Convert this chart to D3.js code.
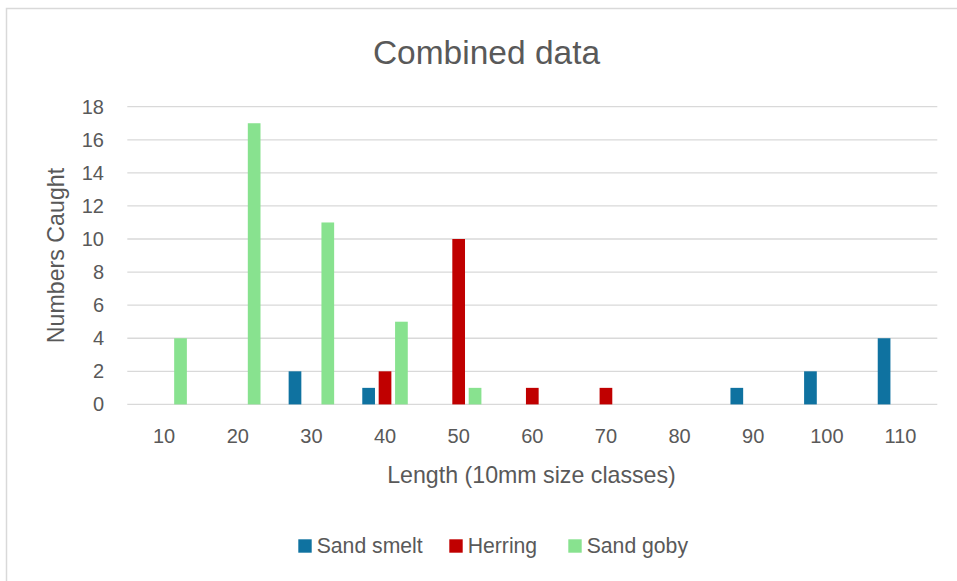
<!DOCTYPE html>
<html><head><meta charset="utf-8">
<script src="https://cdn.jsdelivr.net/npm/d3@7"></script>
<style>
html,body{margin:0;padding:0;background:#fff;}
svg{display:block;}
text{font-family:"Liberation Sans",Arial,sans-serif;fill:#595959;}
</style></head>
<body>
<svg id="chart" width="957" height="581"></svg>
<script>
const categories = ["10","20","30","40","50","60","70","80","90","100","110"];
const seriesNames = ["Sand smelt","Herring","Sand goby"];
const sandSmelt = [0,0,2,1,0,0,0,0,1,2,4];
const herring   = [0,0,0,2,10,1,1,0,0,0,0];
const sandGoby  = [4,17,11,5,1,0,0,0,0,0,0];
const yTicks = [0,2,4,6,8,10,12,14,16,18];
const colors = ["#0F72A0","#C00000","#88E28F"];
const title = "Combined data";
const xTitle = "Length (10mm size classes)";
const yTitle = "Numbers Caught";

const seriesValues = [sandSmelt, herring, sandGoby];
const svg = d3.select("#chart");

// chart border
svg.append("path").attr("d","M6.5,581 L6.5,8.5 L957,8.5")
  .attr("fill","none").attr("stroke","#d9d9d9").attr("stroke-width",1.5);

const plot = {left:127.3, right:937.3, top:106.7, bottom:404.4};

const x = d3.scaleBand().domain(categories).range([plot.left, plot.right]).padding(0);
const y = d3.scaleLinear().domain([0,18]).range([plot.bottom, plot.top]);

const step = x.bandwidth()*0.2227;
const inner = d3.scaleBand().domain(seriesNames)
  .range([-1.5*step, 1.5*step]).paddingInner(0.2256).paddingOuter(0.1128);

// gridlines
svg.append("g").selectAll("line").data(yTicks).join("line")
  .attr("x1",plot.left).attr("x2",plot.right)
  .attr("y1",d=>y(d)).attr("y2",d=>y(d))
  .attr("stroke","#d9d9d9").attr("stroke-width",1.3);

// y axis labels
const yAxis = d3.axisLeft(y).tickValues(yTicks).tickSize(0).tickPadding(0);
const gy = svg.append("g").attr("transform",`translate(${104},0)`).call(yAxis);
gy.select(".domain").remove();
gy.selectAll("text").attr("font-size",20).attr("fill","#595959")
  .attr("font-family","Liberation Sans, Arial, sans-serif");

// x axis labels
const xAxis = d3.axisBottom(x).tickSize(0).tickPadding(0);
const gx = svg.append("g").attr("transform",`translate(0,${428.8})`).call(xAxis);
gx.select(".domain").remove();
gx.selectAll("text").attr("font-size",20).attr("fill","#595959")
  .attr("font-family","Liberation Sans, Arial, sans-serif");

// bars
seriesNames.forEach((name,si)=>{
  svg.append("g").selectAll("rect")
    .data(categories.map((c,i)=>({c, v:seriesValues[si][i]})).filter(d=>d.v>0))
    .join("rect")
    .attr("x",d=>x(d.c)+x.bandwidth()/2+inner(name))
    .attr("width",inner.bandwidth())
    .attr("y",d=>y(d.v))
    .attr("height",d=>y(0)-y(d.v))
    .attr("fill",colors[si]);
});

// title
svg.append("text").attr("x",486.5).attr("y",63.5).attr("text-anchor","middle")
  .attr("font-size",33.5).text(title);

// axis titles
svg.append("text").attr("x",531.5).attr("y",483).attr("text-anchor","middle")
  .attr("font-size",23.2).text(xTitle);
svg.append("text").attr("transform",`translate(64,255.5) rotate(-90)`)
  .attr("text-anchor","middle").attr("font-size",23.2).text(yTitle);

// legend
const legendX = [298.3, 449.3, 568.3];
const lg = svg.append("g");
seriesNames.forEach((name,i)=>{
  lg.append("rect").attr("x",legendX[i]).attr("y",539.3).attr("width",13.4).attr("height",13.4)
    .attr("fill",colors[i]);
  lg.append("text").attr("x",legendX[i]+18.4).attr("y",552.7).attr("font-size",21.2).text(name);
});
</script>
</body></html>
